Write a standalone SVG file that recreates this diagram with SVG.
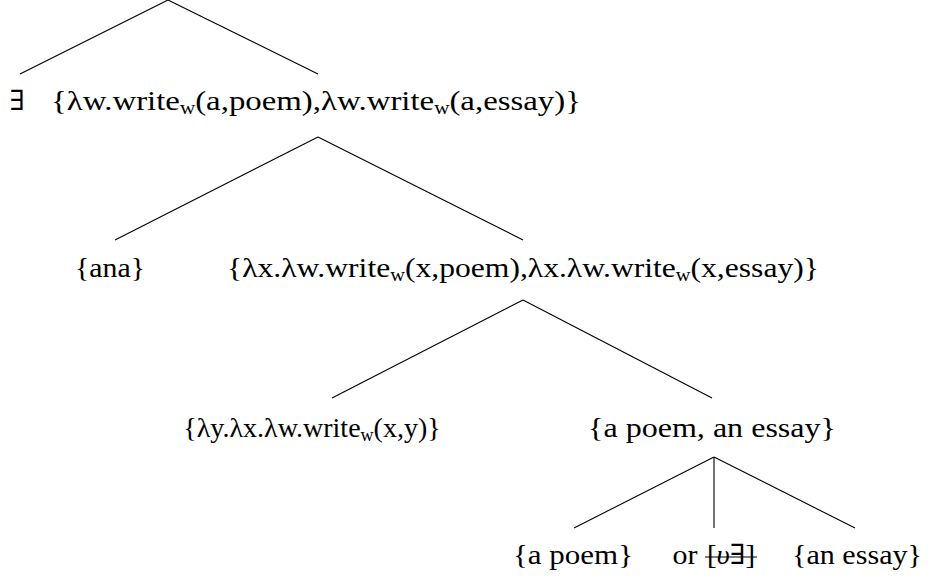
<svg xmlns="http://www.w3.org/2000/svg" width="936" height="582" viewBox="0 0 936 582">
<style>
text{font-family:"Liberation Serif","DejaVu Serif",serif;font-size:28px;fill:#000;text-anchor:middle}
.sub{font-size:18px}
line{stroke:#000;stroke-width:1.1}
</style>
<rect width="936" height="582" fill="#fff"/>
<g id="connectors">
<line x1="168" y1="0" x2="20" y2="74"/>
<line x1="168" y1="0" x2="318" y2="74"/>
<line x1="318" y1="137" x2="115" y2="240"/>
<line x1="318" y1="137" x2="523" y2="240"/>
<line x1="523" y1="300" x2="332" y2="398"/>
<line x1="523" y1="300" x2="712" y2="398"/>
<line x1="714" y1="457" x2="574" y2="528"/>
<line x1="714" y1="457" x2="714" y2="528"/>
<line x1="714" y1="457" x2="855" y2="528"/>
</g>
<g id="n-exists"><text x="17" y="110" font-size="26">∃</text></g>
<g id="n-root-set"><text x="316" y="110" textLength="530" lengthAdjust="spacingAndGlyphs">{λw.write<tspan class="sub" dy="4">w</tspan><tspan dy="-4">(a,poem),λw.write</tspan><tspan class="sub" dy="4">w</tspan><tspan dy="-4">(a,essay)}</tspan></text></g>
<g id="n-ana"><text x="110" y="277" textLength="70" lengthAdjust="spacingAndGlyphs">{ana}</text></g>
<g id="n-vp"><text x="523" y="277" textLength="592" lengthAdjust="spacingAndGlyphs">{λx.λw.write<tspan class="sub" dy="4">w</tspan><tspan dy="-4">(x,poem),λx.λw.write</tspan><tspan class="sub" dy="4">w</tspan><tspan dy="-4">(x,essay)}</tspan></text></g>
<g id="n-verb"><text x="312" y="437">{λy.λx.λw.write<tspan class="sub" dy="4">w</tspan><tspan dy="-4">(x,y)}</tspan></text></g>
<g id="n-obj"><text x="712" y="437" textLength="248" lengthAdjust="spacingAndGlyphs">{a poem, an essay}</text></g>
<g id="n-poem"><text x="573" y="564" textLength="120" lengthAdjust="spacingAndGlyphs">{a poem}</text></g>
<g id="n-or"><text x="685" y="564" textLength="25" lengthAdjust="spacingAndGlyphs">or</text><text x="731" y="564" textLength="48" lengthAdjust="spacingAndGlyphs">[<tspan font-style="italic">υ</tspan>∃]</text><line x1="705" y1="557" x2="757" y2="557"/></g>
<g id="n-essay"><text x="857" y="564" textLength="130" lengthAdjust="spacingAndGlyphs">{an essay}</text></g>
</svg>
